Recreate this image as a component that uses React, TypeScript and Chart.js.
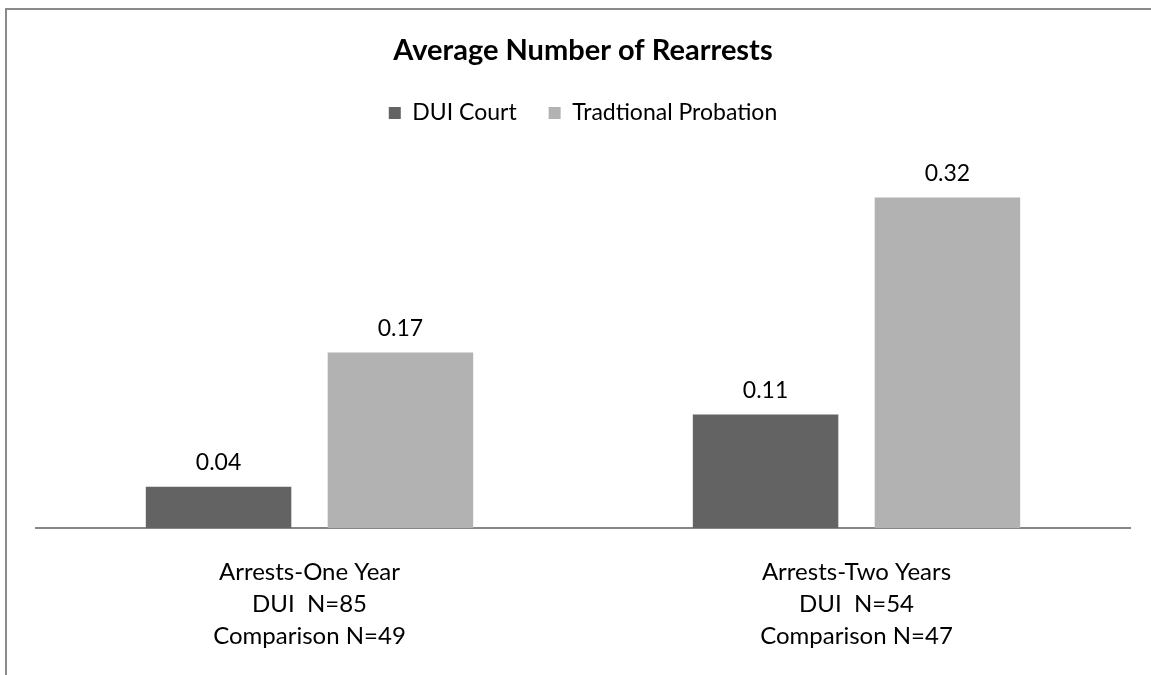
import React, { useEffect, useRef } from "react";
import { Chart, registerables } from "chart.js";

Chart.register(...registerables);

const categories: string[][] = [
  ["Arrests-One Year", "DUI  N=85", "Comparison N=49"],
  ["Arrests-Two Years", "DUI  N=54", "Comparison N=47"],
];
const duiCourt: number[] = [0.04, 0.11];
const traditionalProbation: number[] = [0.17, 0.32];
const seriesNames: string[] = ["DUI Court", "Tradtional Probation"];
const chartTitle = "Average Number of Rearrests";

const FONT = "Lato, 'Open Sans', sans-serif";

const dataLabelPlugin = {
  id: "dataLabels",
  afterDatasetsDraw(chart: any) {
    const ctx = chart.ctx;
    ctx.save();
    ctx.font = `23px ${FONT}`;
    ctx.fillStyle = "#000";
    ctx.textAlign = "center";
    ctx.textBaseline = "middle";
    chart.data.datasets.forEach((ds: any, di: number) => {
      const meta = chart.getDatasetMeta(di);
      meta.data.forEach((bar: any, i: number) => {
        const v = ds.data[i] as number;
        ctx.fillText(v.toFixed(2), bar.x, bar.y - 24);
      });
    });
    ctx.restore();
  },
};

export default function App() {
  const ref = useRef<HTMLCanvasElement | null>(null);
  useEffect(() => {
    if (!ref.current) return;
    const chart = new Chart(ref.current, {
      type: "bar",
      data: {
        labels: categories,
        datasets: [
          {
            label: seriesNames[0],
            data: duiCourt,
            backgroundColor: "#636363",
            categoryPercentage: 0.665,
            barPercentage: 0.8,
          },
          {
            label: seriesNames[1],
            data: traditionalProbation,
            backgroundColor: "#b2b2b2",
            categoryPercentage: 0.665,
            barPercentage: 0.8,
          },
        ],
      },
      options: {
        animation: false,
        responsive: false,
        maintainAspectRatio: false,
        layout: { padding: { left: 36, right: 21, top: 0, bottom: 0 } },
        plugins: {
          title: {
            display: true,
            text: chartTitle,
            color: "#000",
            font: { family: FONT, size: 29, weight: "bold", lineHeight: 1 },
            padding: { top: 36, bottom: 4.5 },
          },
          legend: {
            display: true,
            labels: {
              boxWidth: 12,
              boxHeight: 12,
              color: "#000",
              font: { family: FONT, size: 23 },
              padding: 32,
            },
          },
          tooltip: { enabled: false },
        },
        scales: {
          x: {
            grid: { display: false },
            border: { display: true, color: "#868686", width: 2 },
            ticks: {
              color: "#000",
              font: { family: FONT, size: 24, lineHeight: 1.333 },
              padding: 20,
            },
            afterFit: (scale: any) => {
              scale.height = 147;
            },
          },
          y: {
            display: false,
            min: 0,
            max: 0.381,
          },
        },
      },
      plugins: [dataLabelPlugin],
    });
    return () => chart.destroy();
  }, []);
  return (
    <div style={{ position: "fixed", left: 0, top: 0, width: 1151, height: 675, background: "#fff" }}>
      <div
        style={{
          position: "absolute",
          left: 5,
          top: 8,
          width: 1151,
          height: 675,
          borderTop: "2px solid #8a8a8a",
          borderLeft: "2px solid #8a8a8a",
        }}
      />
      <canvas ref={ref} width={1151} height={675} style={{ position: "absolute", left: 0, top: 0 }} />
    </div>
  );
}
